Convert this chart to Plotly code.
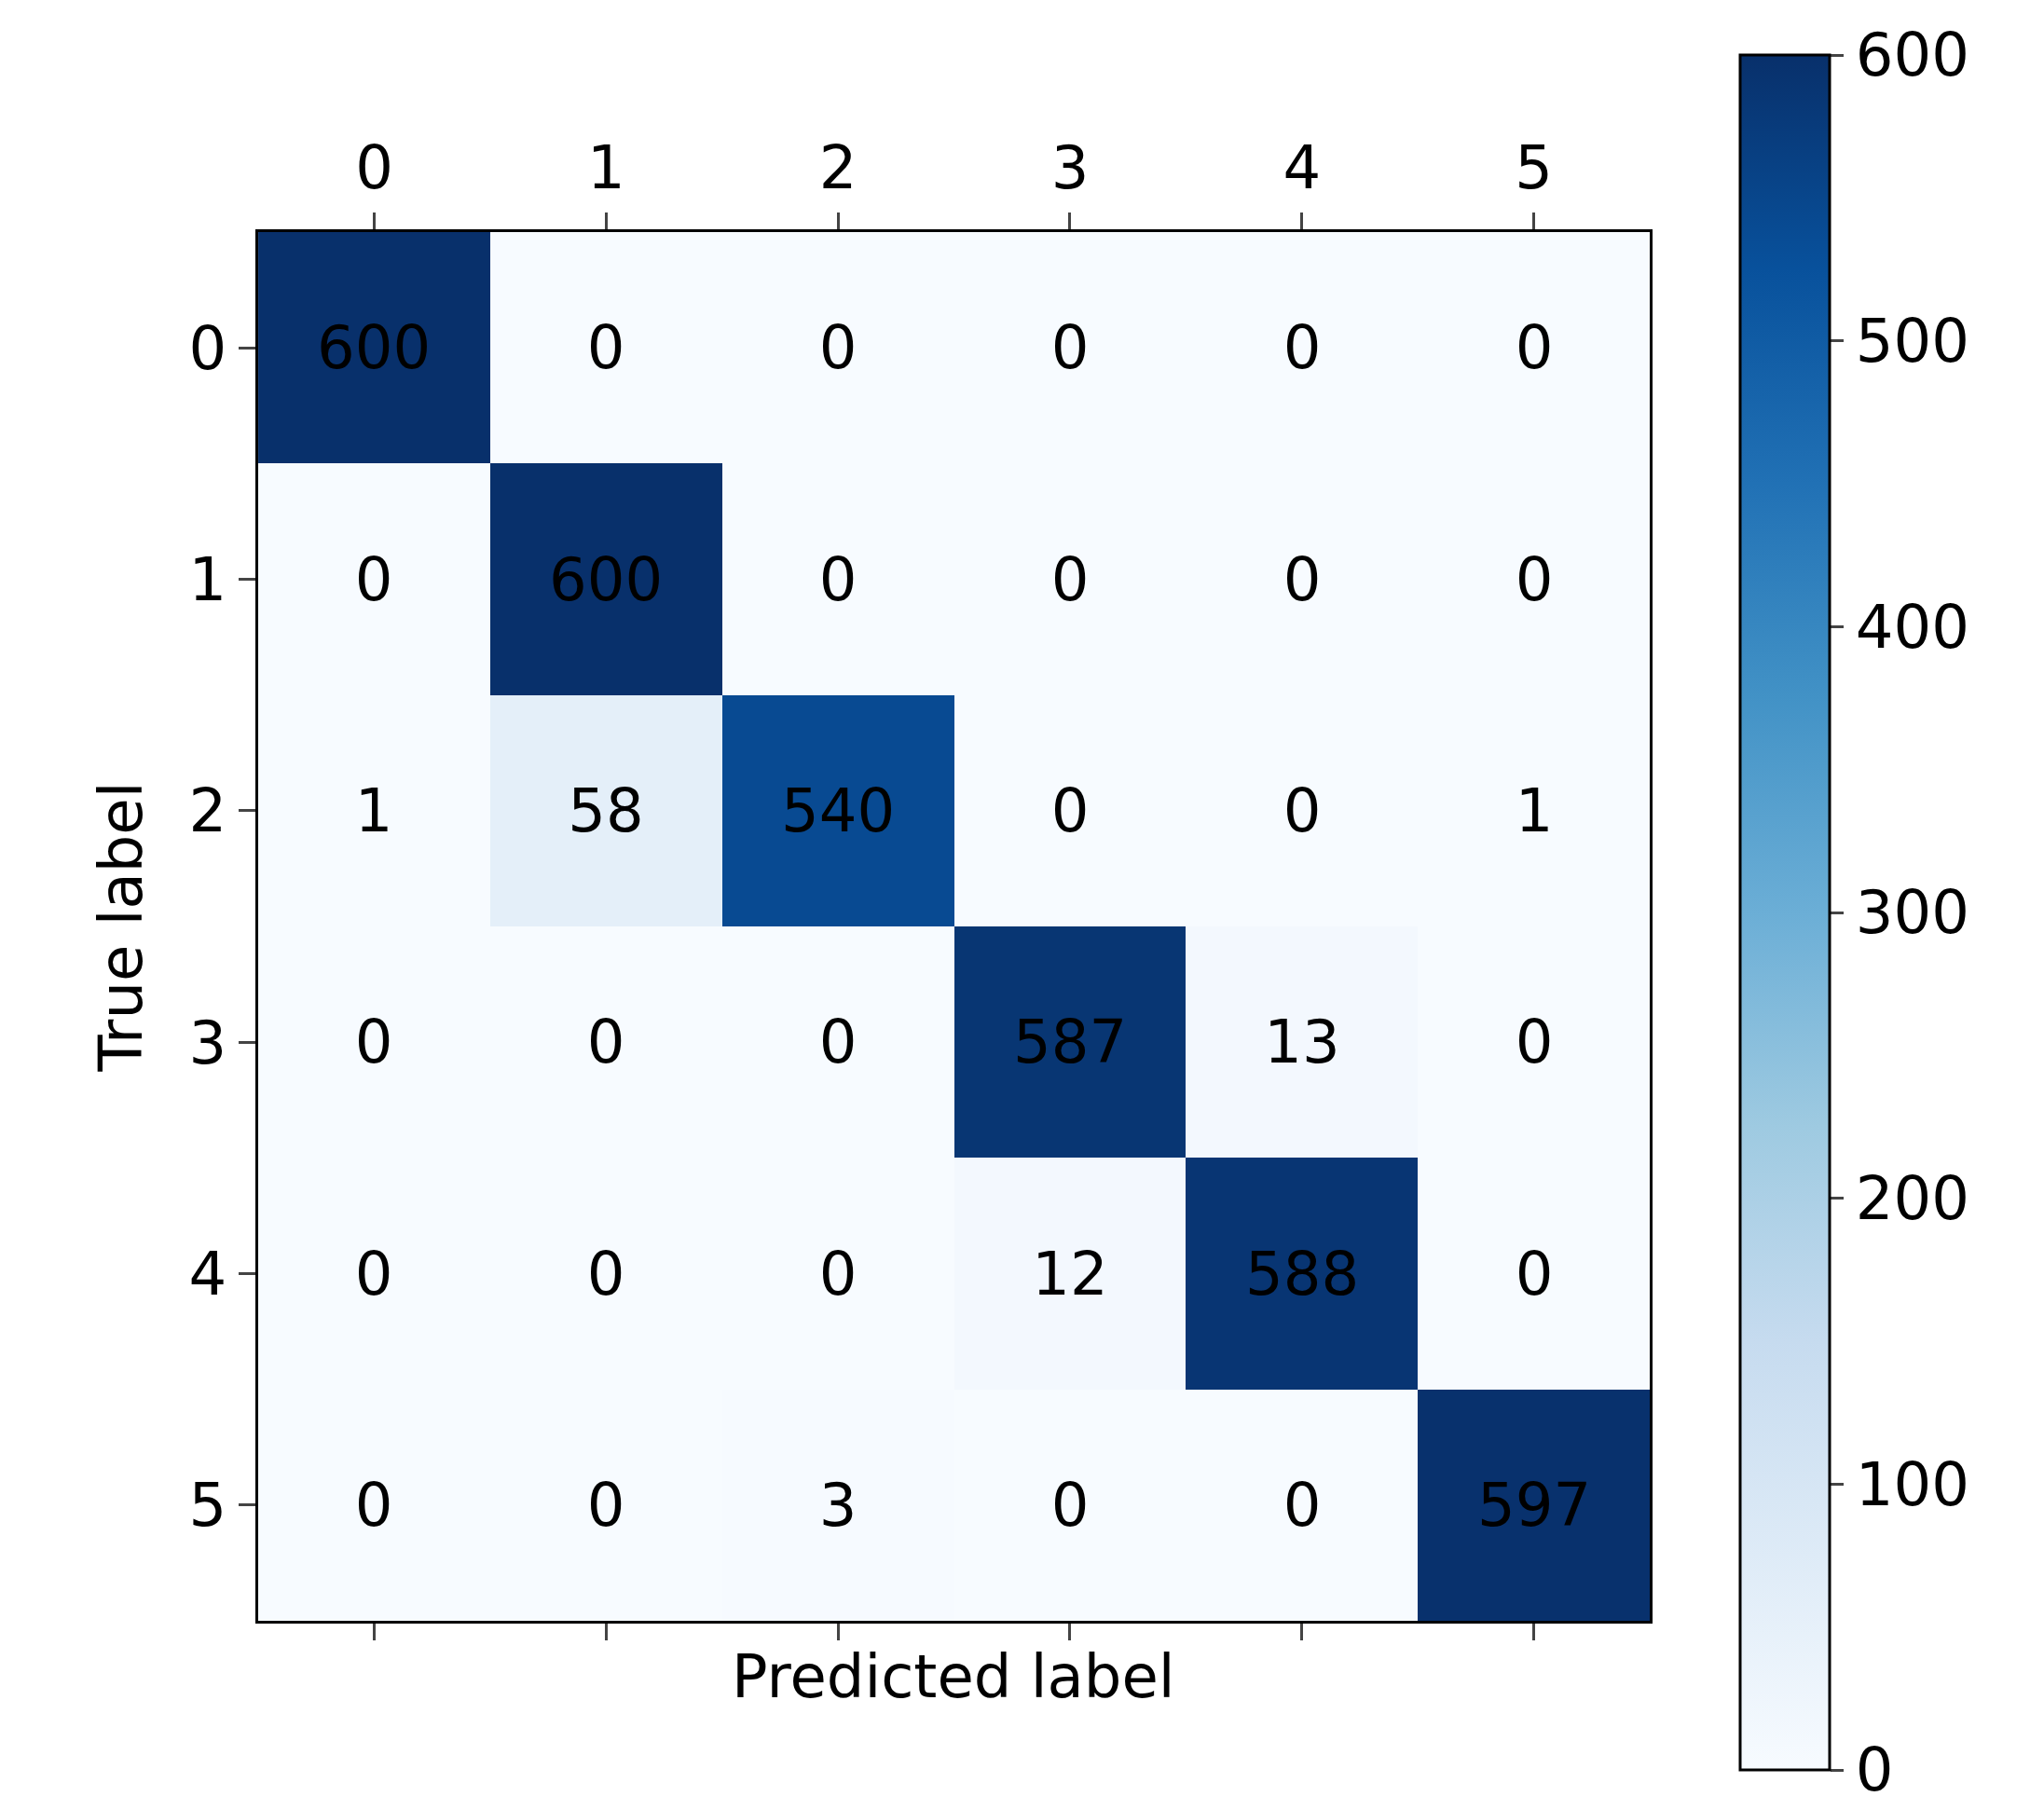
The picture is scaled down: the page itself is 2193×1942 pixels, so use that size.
import plotly.graph_objects as go

labels = ["0", "1", "2", "3", "4", "5"]
z = [
    [600, 0, 0, 0, 0, 0],
    [0, 600, 0, 0, 0, 0],
    [1, 58, 540, 0, 0, 1],
    [0, 0, 0, 587, 13, 0],
    [0, 0, 0, 12, 588, 0],
    [0, 0, 3, 0, 0, 597],
]
blues = ["#f7fbff", "#deebf7", "#c6dbef", "#9ecae1", "#6baed6",
         "#4292c6", "#2171b5", "#08519c", "#08306b"]
cs = [[i / 8, c] for i, c in enumerate(blues)]
F = "DejaVu Sans"
fs = 64

fig = go.Figure(go.Heatmap(
    z=z, x=labels, y=labels, colorscale=cs, zmin=0, zmax=600,
    texttemplate="%{z}", textfont=dict(family=F, size=fs, color="black"),
    xgap=0, ygap=0,
    colorbar=dict(x=0.8432, xanchor="left", y=0.5, yanchor="middle",
                  len=0.958, lenmode="fraction", thickness=96,
                  outlinewidth=3, outlinecolor="black",
                  tickvals=[0, 100, 200, 300, 400, 500, 600],
                  ticks="outside", ticklen=14, tickwidth=3,
                  tickfont=dict(family=F, size=fs, color="black")),
))
fig.update_layout(
    width=2193, height=1942, paper_bgcolor="white", plot_bgcolor="white",
    margin=dict(l=0, r=0, t=0, b=0),
    xaxis=dict(domain=[0.1227, 0.8035], side="top", ticks="outside", ticklen=18,
               tickwidth=3, mirror="ticks", showline=True, linewidth=3, linecolor="black",
               tickfont=dict(family=F, size=fs, color="black"), showgrid=False),
    yaxis=dict(domain=[0.1086, 0.8759], autorange="reversed", ticks="outside", ticklen=18,
               tickwidth=3, showline=True, mirror=True, linewidth=3, linecolor="black",
               tickfont=dict(family=F, size=fs, color="black"), showgrid=False,
               title=dict(text="True label", font=dict(family=F, size=fs, color="black"),
                          standoff=30)),
    annotations=[dict(text="Predicted label", x=0.463, y=0.078, xref="paper", yref="paper",
                      showarrow=False, font=dict(family=F, size=fs, color="black"),
                      yanchor="middle")],
)
fig.write_html("out.html")
